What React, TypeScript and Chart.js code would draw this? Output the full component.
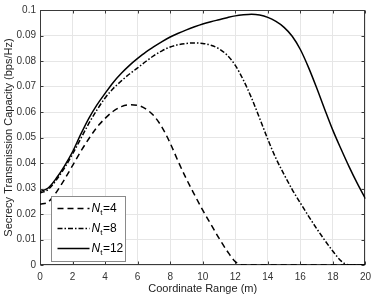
import React, { useEffect, useRef } from 'react';
import { Chart, registerables } from 'chart.js';

Chart.register(...registerables);

// ---- data ----
const xValues = [
  0, 0.5, 1, 1.5, 2, 2.5, 3, 3.5, 4, 4.5, 5, 5.5, 6, 6.5, 7, 7.5, 8, 8.5, 9, 9.5, 10,
  10.5, 11, 11.5, 12, 12.5, 13, 13.5, 14, 14.5, 15, 15.5, 16, 16.5, 17, 17.5, 18, 18.5, 19, 19.5, 20,
];

const nt4 = [
  0.0238, 0.0247, 0.0285, 0.0335, 0.039, 0.0445, 0.0495, 0.054, 0.0575, 0.0603, 0.0621, 0.0628, 0.0626,
  0.0612, 0.0585, 0.054, 0.0478, 0.0405, 0.0337, 0.0275, 0.0215, 0.016, 0.0105, 0.0055, 0.0013, 0,
  0, 0, 0, 0, 0, 0, 0, 0, 0, 0, 0, 0, 0, 0, 0,
];

const nt8 = [
  0.0282, 0.0296, 0.0333, 0.038, 0.0435, 0.0495, 0.0555, 0.0608, 0.0655, 0.0692, 0.0722, 0.0749, 0.0773,
  0.0798, 0.0821, 0.084, 0.0855, 0.0864, 0.0869, 0.0871, 0.0869, 0.0862, 0.0848, 0.0823, 0.0783, 0.0725,
  0.0655, 0.0575, 0.0493, 0.0418, 0.0355, 0.0296, 0.0243, 0.0192, 0.0143, 0.0097, 0.0054, 0.0016, 0, 0, 0,
];

const nt12 = [
  0.0288, 0.0302, 0.034, 0.0388, 0.0444, 0.0512, 0.0575, 0.0628, 0.0673, 0.0716, 0.0752, 0.0783, 0.081,
  0.0835, 0.0856, 0.0876, 0.0894, 0.0909, 0.0922, 0.0934, 0.0945, 0.0954, 0.0962, 0.097, 0.0977, 0.0981,
  0.0983, 0.098, 0.0971, 0.0955, 0.0932, 0.0897, 0.0845, 0.0775, 0.0695, 0.061, 0.0528, 0.0455, 0.0385,
  0.032, 0.026,
];

const seriesLabels = ['N_t=4', 'N_t=8', 'N_t=12'];
const seriesDashes: number[][] = [[6, 4], [5, 2, 1.5, 2], []];
const xTicks = [0, 2, 4, 6, 8, 10, 12, 14, 16, 18, 20];
const yTicks = [0, 0.01, 0.02, 0.03, 0.04, 0.05, 0.06, 0.07, 0.08, 0.09, 0.1];
const xTitle = 'Coordinate Range (m)';
const yTitle = 'Secrecy Transmission Capacity (bps/Hz)';

const FONT = "'Liberation Sans', Arial, Helvetica, sans-serif";

const framePlugin = {
  id: 'frame',
  beforeDatasetsDraw(chart: any) {
    const { ctx, chartArea: a, scales } = chart;
    const L = Math.round(a.left) + 0.5;
    const R = Math.round(a.right) - 0.5;
    const T = Math.round(a.top) + 0.5;
    const B = Math.round(a.bottom) - 0.5;
    ctx.save();
    ctx.strokeStyle = '#3a3a3a';
    ctx.lineWidth = 1;
    ctx.strokeRect(L, T, R - L, B - T);
    ctx.beginPath();
    xTicks.forEach((v) => {
      const px = Math.round(scales.x.getPixelForValue(v)) + 0.5;
      ctx.moveTo(px, B);
      ctx.lineTo(px, B - 3);
      ctx.moveTo(px, T);
      ctx.lineTo(px, T + 3);
    });
    yTicks.forEach((v) => {
      const py = Math.round(scales.y.getPixelForValue(v)) + 0.5;
      ctx.moveTo(L, py);
      ctx.lineTo(L + 3, py);
      ctx.moveTo(R, py);
      ctx.lineTo(R - 3, py);
    });
    ctx.stroke();
    ctx.restore();
  },
  afterDraw(chart: any) {
    const { ctx, chartArea: a } = chart;
    const bx = Math.round(a.left) + 11.5;
    const by = Math.round(a.top) + 186.5;
    const bw = 74;
    const bh = 65;
    ctx.save();
    ctx.fillStyle = '#ffffff';
    ctx.fillRect(bx, by, bw, bh);
    ctx.strokeStyle = '#8a8a8a';
    ctx.lineWidth = 1;
    ctx.strokeRect(bx, by, bw, bh);
    seriesLabels.forEach((lab, i) => {
      const cy = by + 12 + i * 20;
      ctx.strokeStyle = '#000';
      ctx.lineWidth = 1.5;
      ctx.setLineDash(seriesDashes[i]);
      ctx.beginPath();
      ctx.moveTo(bx + 6, cy);
      ctx.lineTo(bx + 38, cy);
      ctx.stroke();
      ctx.setLineDash([]);
      const [base, rest] = lab.split('_');
      const sub = rest.charAt(0);
      const tail = rest.slice(1);
      let tx = bx + 40;
      ctx.fillStyle = '#000';
      ctx.textBaseline = 'middle';
      ctx.textAlign = 'left';
      ctx.font = `italic 12px ${FONT}`;
      ctx.fillText(base, tx, cy);
      tx += ctx.measureText(base).width;
      ctx.font = `8px ${FONT}`;
      ctx.fillText(sub, tx, cy + 4);
      tx += ctx.measureText(sub).width + 0.5;
      ctx.font = `12px ${FONT}`;
      ctx.fillText(tail, tx, cy);
    });
    ctx.restore();
  },
};

export default function App() {
  const ref = useRef<HTMLCanvasElement | null>(null);

  useEffect(() => {
    document.body.style.margin = '0';
    if (!ref.current) return;
    const mk = (ys: number[]) => xValues.map((x, i) => ({ x, y: ys[i] }));
    const allSeries = [nt4, nt8, nt12];
    const chart = new Chart(ref.current, {
      type: 'line',
      data: {
        datasets: allSeries.map((ys, i) => ({
          label: seriesLabels[i],
          data: mk(ys),
          borderColor: '#000',
          backgroundColor: '#000',
          borderWidth: 1.5,
          borderDash: seriesDashes[i],
          pointRadius: 0,
          fill: false,
          cubicInterpolationMode: 'monotone' as const,
        })),
      },
      options: {
        responsive: false,
        animation: false,
        devicePixelRatio: 1,
        layout: { padding: { top: 4, right: 6, left: 0, bottom: 0 } },
        plugins: { legend: { display: false }, tooltip: { enabled: false } },
        scales: {
          x: {
            type: 'linear',
            min: 0,
            max: 20,
            afterBuildTicks: (s: any) => {
              s.ticks = xTicks.map((v) => ({ value: v }));
            },
            afterFit: (s: any) => {
              s.height = 35;
            },
            grid: { color: '#e6e6e6', drawTicks: false, lineWidth: 1 },
            border: { display: false },
            ticks: {
              color: '#333',
              font: { family: FONT, size: 10 },
              padding: 6,
              maxRotation: 0,
              callback: (v: any) => String(v),
            },
            title: {
              display: true,
              text: xTitle,
              color: '#222',
              font: { family: FONT, size: 11 },
              padding: { top: 2, bottom: 4 },
            },
          },
          y: {
            type: 'linear',
            min: 0,
            max: 0.1,
            afterBuildTicks: (s: any) => {
              s.ticks = yTicks.map((v) => ({ value: v }));
            },
            afterFit: (s: any) => {
              s.width = 40;
            },
            grid: { color: '#e6e6e6', drawTicks: false, lineWidth: 1 },
            border: { display: false },
            ticks: {
              color: '#333',
              font: { family: FONT, size: 10 },
              padding: 4,
              callback: (v: any) => String(+Number(v).toFixed(2)),
            },
            title: {
              display: true,
              text: yTitle,
              color: '#222',
              font: { family: FONT, size: 11 },
              padding: { top: 2, bottom: 2 },
            },
          },
        },
      },
      plugins: [framePlugin],
    });
    return () => chart.destroy();
  }, []);

  return (
    <div style={{ width: 377, height: 300, background: '#fff' }}>
      <canvas ref={ref} width={377} height={300} style={{ display: 'block' }} />
    </div>
  );
}
